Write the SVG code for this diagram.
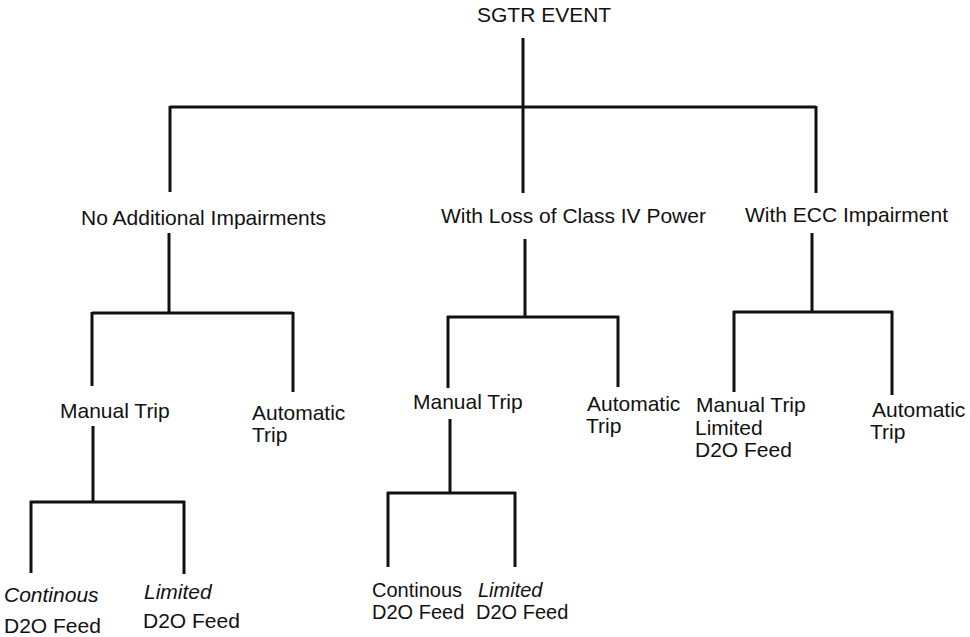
<svg xmlns="http://www.w3.org/2000/svg" width="970" height="637" viewBox="0 0 970 637">
<style>
text{font-family:"Liberation Sans",Arial,sans-serif;font-size:21px;fill:#111}
.it{font-style:italic}
.sm{font-size:20px}
.c line{stroke:#111;stroke-width:3;stroke-linecap:butt}
</style>
<rect width="970" height="637" fill="#fff"/>
<g class="c" id="connectors">
<line x1="523" y1="38" x2="523" y2="193"/>
<line x1="170" y1="107" x2="816" y2="107"/>
<line x1="170" y1="106" x2="170" y2="192"/>
<line x1="816" y1="106" x2="816" y2="193"/>
<line x1="169" y1="233" x2="169" y2="313"/>
<line x1="92" y1="313" x2="293" y2="313"/>
<line x1="92" y1="312" x2="92" y2="386"/>
<line x1="293" y1="312" x2="293" y2="392"/>
<line x1="525" y1="239" x2="525" y2="317"/>
<line x1="447" y1="317" x2="619" y2="317"/>
<line x1="448" y1="316" x2="448" y2="388"/>
<line x1="618" y1="316" x2="618" y2="387"/>
<line x1="812" y1="233" x2="812" y2="312"/>
<line x1="733" y1="312" x2="893" y2="312"/>
<line x1="734" y1="311" x2="734" y2="392"/>
<line x1="892" y1="311" x2="892" y2="395"/>
<line x1="93" y1="426" x2="93" y2="502"/>
<line x1="30" y1="502" x2="185" y2="502"/>
<line x1="31" y1="501" x2="31" y2="573"/>
<line x1="184" y1="501" x2="184" y2="574"/>
<line x1="450" y1="419" x2="450" y2="493"/>
<line x1="387" y1="493" x2="516" y2="493"/>
<line x1="388" y1="492" x2="388" y2="567"/>
<line x1="515" y1="492" x2="515" y2="567"/>
</g>
<g id="root"><text x="477" y="22">SGTR EVENT</text></g>
<g id="n1"><text x="81" y="225">No Additional Impairments</text></g>
<g id="n2"><text x="441" y="223">With Loss of Class IV Power</text></g>
<g id="n3"><text x="745" y="222">With ECC Impairment</text></g>
<g id="n1a"><text x="60" y="418">Manual Trip</text></g>
<g id="n1b"><text x="252" y="420">Automatic</text><text x="252" y="442">Trip</text></g>
<g id="n2a"><text x="413" y="409">Manual Trip</text></g>
<g id="n2b"><text x="587" y="411">Automatic</text><text x="586" y="433">Trip</text></g>
<g id="n3a"><text x="696" y="412">Manual Trip</text><text x="695" y="435">Limited</text><text x="695" y="457">D2O Feed</text></g>
<g id="n3b"><text x="872" y="417">Automatic</text><text x="870" y="439">Trip</text></g>
<g id="n1a1"><text class="it" x="4" y="602">Continous</text><text x="4" y="633">D2O Feed</text></g>
<g id="n1a2"><text class="it" x="144" y="599">Limited</text><text x="143" y="628">D2O Feed</text></g>
<g id="n2a1"><text class="sm" x="372" y="597">Continous</text><text class="sm" x="372" y="619">D2O Feed</text></g>
<g id="n2a2"><text class="it sm" x="478" y="597">Limited</text><text class="sm" x="476" y="619">D2O Feed</text></g>
</svg>
